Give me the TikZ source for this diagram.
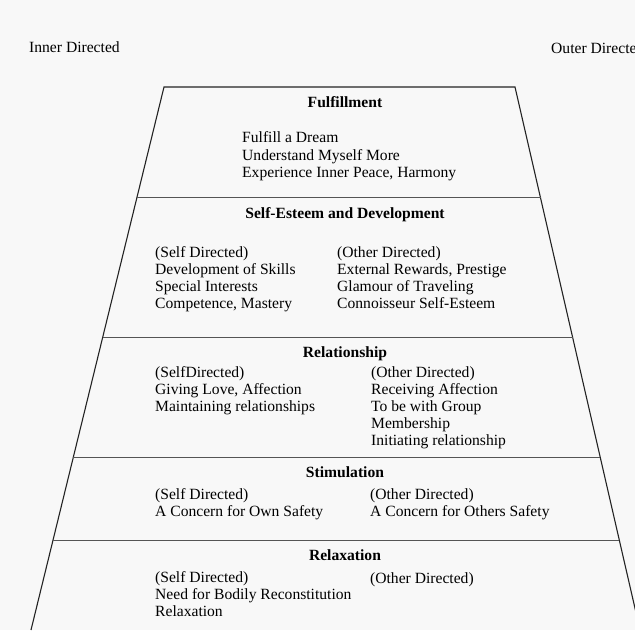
\documentclass[tikz,border=0pt]{standalone}
\usepackage{fontspec}
\setmainfont{Liberation Serif}
\usetikzlibrary{calc}
\definecolor{paper}{RGB}{248,248,248}
\definecolor{ink}{RGB}{35,35,35}
\definecolor{rule}{RGB}{85,85,85}
\newcommand\pyrfont{\fontsize{15.6}{17.2}\selectfont}
\tikzset{
  level/.style={font=\pyrfont\bfseries,anchor=base,inner sep=0pt},
  side/.style={font=\pyrfont,anchor=base west,inner sep=0pt},
  column/.style={font=\pyrfont,align=left,anchor=north west,inner sep=0pt,
    execute at begin node=\strut},
}
\begin{document}
\begin{tikzpicture}[x=1pt,y=-1pt]
\useasboundingbox (0,0) rectangle (635,630);
\fill[paper] (0,0) rectangle (635,630);
\clip (0,0) rectangle (635,630);
% outline
\coordinate (tl) at (164,87);
\coordinate (tr) at (515,87);
\coordinate (bl) at (31,630);
\coordinate (br) at (640,630);
\draw[ink,line width=1.1pt] (bl) -- (tl) -- (tr) -- (br);
% level borders
\foreach \t in {0.2044,0.4604,0.6814,0.8343}
  \draw[rule,line width=1pt] ($(tl)!\t!(bl)$) -- ($(tr)!\t!(br)$);
% sides
\node[side] (inner) at (29,52) {Inner Directed};
\node[side] (outer) at (551,53) {Outer Directed};
% fulfillment
\node[level] (fulfil) at (345,107.5) {Fulfillment};
\node[column] (fulfilall) at (242,131.7) {Fulfill a Dream\\Understand Myself More\\Experience Inner Peace, Harmony};
% self-esteem
\node[level] (esteem) at (345,218) {Self-Esteem and Development};
\node[column] (esteemself) at (155,246) {(Self Directed)\\Development of Skills\\Special Interests\\Competence, Mastery};
\node[column] (esteemother) at (337,246) {(Other Directed)\\External Rewards, Prestige\\Glamour of Traveling\\Connoisseur Self-Esteem};
% relationship
\node[level] (relation) at (345,357) {Relationship};
\node[column] (relationself) at (155,366) {(SelfDirected)\\Giving Love, Affection\\Maintaining relationships};
\node[column] (relationother) at (371,366) {(Other Directed)\\Receiving Affection\\To be with Group\\Membership\\Initiating relationship};
% stimulation
\node[level] (stimul) at (345,477) {Stimulation};
\node[column] (stimulself) at (155,488.5) {(Self Directed)\\A Concern for Own Safety};
\node[column] (stimulother) at (370,488.5) {(Other Directed)\\A Concern for Others Safety};
% relaxation
\node[level] (relax) at (345,560) {Relaxation};
\node[column] (relaxself) at (155,571) {(Self Directed)\\Need for Bodily Reconstitution\\Relaxation};
\node[column] (relaxother) at (370,571) {(Other Directed)};
\end{tikzpicture}
\end{document}
